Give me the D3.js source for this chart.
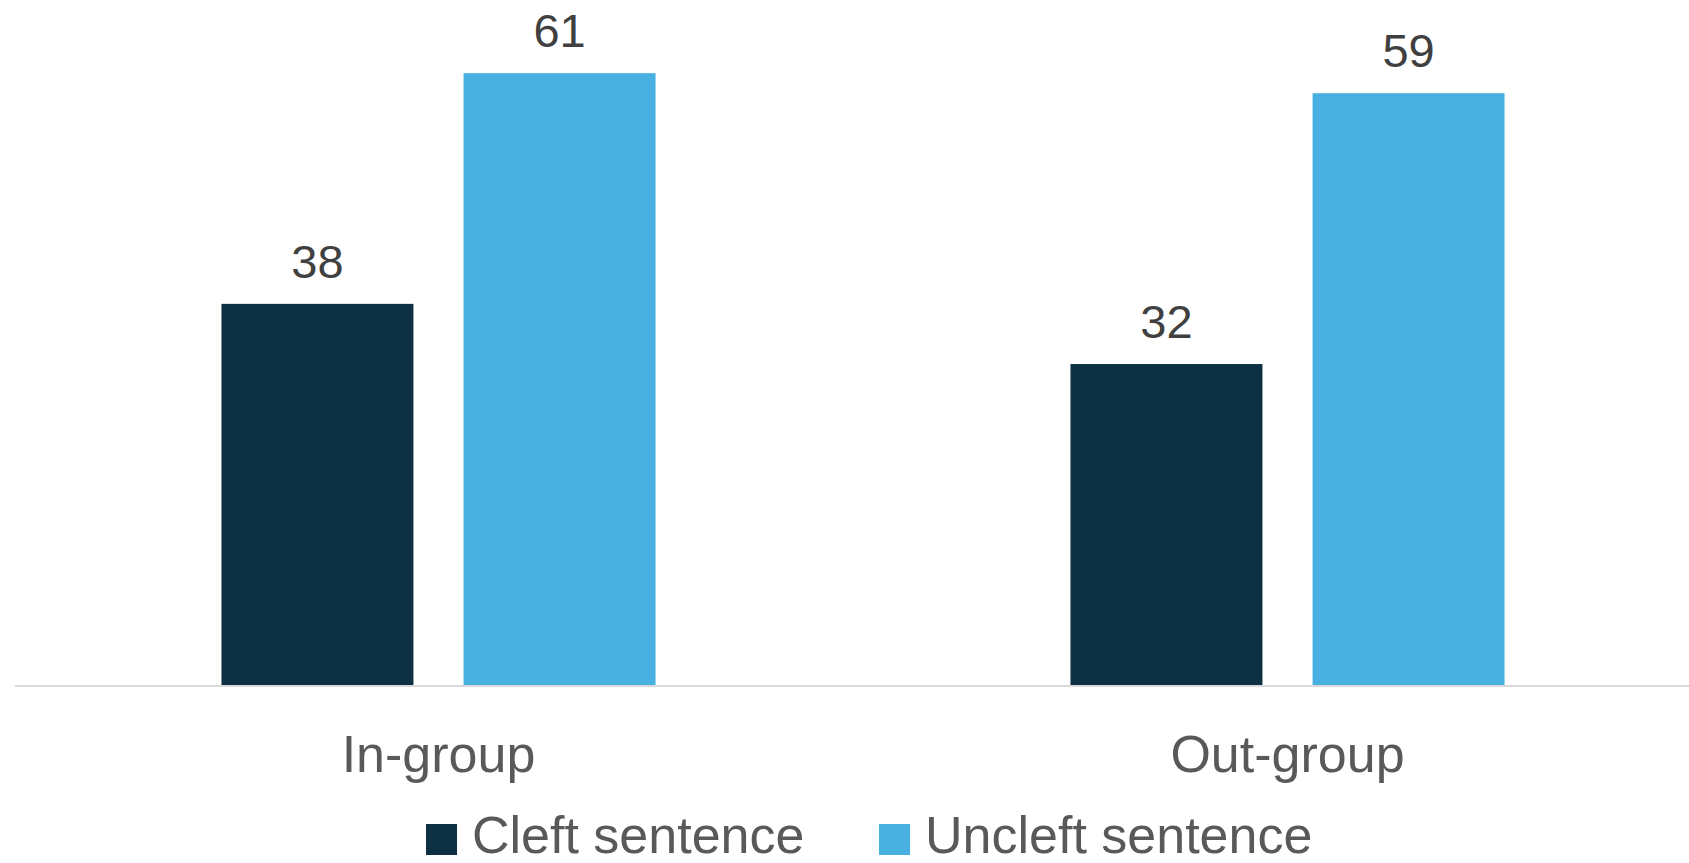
<!DOCTYPE html>
<html>
<head>
<meta charset="utf-8">
<script src="https://cdn.jsdelivr.net/npm/d3@7"></script>
<style>
  html, body { margin: 0; padding: 0; background: #fff; }
  svg { display: block; }
</style>
</head>
<body>
<div id="content"></div>
<script>
const categories = ['In-group', 'Out-group'];
const seriesNames = ['Cleft sentence', 'Uncleft sentence'];
const cleftValues = [38, 32];
const uncleftValues = [61, 59];

const width = 1689;
const height = 863;
const baseline = 685;

const colors = d3.scaleOrdinal()
    .domain(seriesNames)
    .range(['#0e3043', '#47b0e0']);

const rows = categories.map((c, i) => ({
    category: c,
    values: [
        { series: seriesNames[0], value: cleftValues[i] },
        { series: seriesNames[1], value: uncleftValues[i] },
    ],
}));

const svg = d3.select('#content').append('svg')
    .attr('width', width)
    .attr('height', height);

const x0 = d3.scaleBand()
    .domain(categories)
    .range([14, 1712]);

const x1 = d3.scaleBand()
    .domain(seriesNames)
    .range([0, x0.bandwidth()])
    .paddingInner(0.207)
    .paddingOuter(0.857);

const y = d3.scaleLinear()
    .domain([0, 70])
    .range([baseline, baseline - 70 * 10.03]);

const groups = svg.append('g')
    .attr('class', 'groups')
    .selectAll('g')
    .data(rows)
    .enter()
    .append('g')
    .attr('transform', d => `translate(${x0(d.category)},0)`);

groups.selectAll('rect')
    .data(d => d.values)
    .enter()
    .append('rect')
    .attr('x', d => x1(d.series))
    .attr('y', d => y(d.value))
    .attr('width', x1.bandwidth())
    .attr('height', d => y(0) - y(d.value))
    .style('fill', d => colors(d.series));

groups.selectAll('text.value')
    .data(d => d.values)
    .enter()
    .append('text')
    .attr('class', 'value')
    .attr('x', d => x1(d.series) + x1.bandwidth() / 2)
    .attr('y', d => y(d.value) - 26)
    .attr('text-anchor', 'middle')
    .style('font-family', '"Liberation Sans", Arial, sans-serif')
    .style('font-size', '47px')
    .style('fill', '#404040')
    .text(d => d.value);

// category axis
svg.append('line')
    .attr('x1', 15)
    .attr('x2', width)
    .attr('y1', baseline + 1)
    .attr('y2', baseline + 1)
    .style('stroke', '#d9d9d9')
    .style('stroke-width', 2);

svg.append('g')
    .selectAll('text')
    .data(categories)
    .enter()
    .append('text')
    .attr('x', c => x0(c) + x0.bandwidth() / 2)
    .attr('y', 772)
    .attr('text-anchor', 'middle')
    .style('font-family', '"Liberation Sans", Arial, sans-serif')
    .style('font-size', '52px')
    .style('fill', '#595959')
    .text(c => c);

// legend
const legendX = [426, 879];
const legend = svg.append('g')
    .selectAll('g')
    .data(seriesNames)
    .enter()
    .append('g')
    .attr('transform', (s, i) => `translate(${legendX[i]},824)`);

legend.append('rect')
    .attr('width', 31)
    .attr('height', 31)
    .style('fill', s => colors(s));

legend.append('text')
    .attr('x', 46)
    .attr('y', 29)
    .style('font-family', '"Liberation Sans", Arial, sans-serif')
    .style('font-size', '52px')
    .style('fill', '#595959')
    .text(s => s);
</script>
</body>
</html>
